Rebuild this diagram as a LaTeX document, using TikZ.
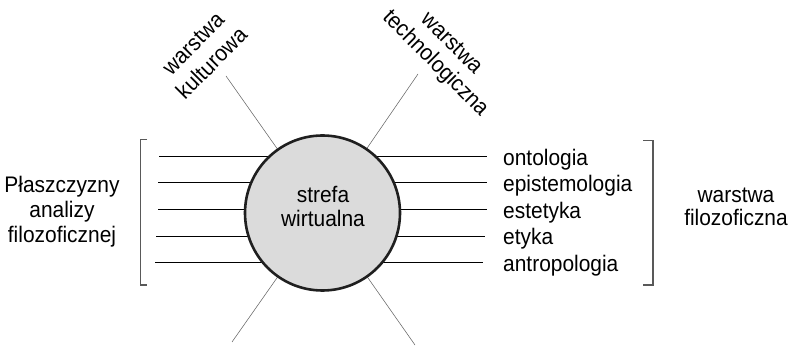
\documentclass[tikz,border=0pt]{standalone}
\usepackage{fontspec}
\setmainfont{Liberation Sans}[FakeStretch=0.93]
\begin{document}
\begin{tikzpicture}[x=1pt,y=-1pt,
  lbl/.style={font=\fontsize{22.5}{25}\selectfont, inner sep=0pt, anchor=base},
  item/.style={lbl, anchor=base west},
  tilted/.style={font=\fontsize{22.5}{25}\selectfont, inner sep=0pt, anchor=center,
                 text height=15pt, text depth=4pt},
  plane/.style={line width=1.2pt, black},
  ray/.style={line width=0.55pt, black!60},
  bracket/.style={line width=1.2pt, black!65},
  core/.style={circle, draw=black!88, line width=2.6pt, fill=black!14,
               minimum size=155pt, inner sep=0pt}]
\useasboundingbox (0,0) rectangle (790,347);

% horizontal planes of analysis
\foreach \i/\y/\xl/\xr in {1/156.5/159/487, 2/182.5/158/487, 3/209.5/158/487, 4/236.5/156/485, 5/262.5/155/483}{
  \coordinate (L\i) at (\xl,\y);
  \coordinate (R\i) at (\xr,\y);
  \draw[plane] (L\i) -- (R\i);
}

% radial layers
\coordinate (tl) at (226,76);
\coordinate (tr) at (418,74);
\coordinate (bl) at (232,342);
\coordinate (br) at (415,345);
\coordinate (cc) at (322.5,213);
\draw[ray] (cc) -- (tl);
\draw[ray] (cc) -- (tr);
\draw[ray] (cc) -- (bl);
\draw[ray] (cc) -- (br);

% central sphere
\node[core] (c) at (cc) {};
\node[lbl] (c1) at (323,203) {strefa};
\node[lbl] (c2) at (323,227) {wirtualna};

% brackets
\draw[bracket] (147,139.5) -- (140.5,139.5) -- (140.5,285) -- (147,285);
\draw[bracket] (643,140.5) -- (653,140.5) -- (653,285) -- (643,285);

% philosophical disciplines
\node[item] (n1) at (503,165.5) {ontologia};
\node[item] (n2) at (503,192) {epistemologia};
\node[item] (n3) at (503,218.5) {estetyka};
\node[item] (n4) at (503,245) {etyka};
\node[item] (n5) at (503,271.5) {antropologia};

% side labels
\node[lbl] (p1) at (62,193) {Płaszczyzny};
\node[lbl] (p2) at (62,218) {analizy};
\node[lbl] (p3) at (62,243) {filozoficznej};
\node[lbl] (f1) at (736,202.5) {warstwa};
\node[lbl] (f2) at (736,225.5) {filozoficzna};

% rotated layer labels
\node[tilted, rotate=45] (k1) at (194.5,45) {warstwa};
\node[tilted, rotate=45] (k2) at (213,64.5) {kulturowa};
\node[tilted, rotate=-45] (t1) at (451,44) {warstwa};
\node[tilted, rotate=-45] (t2) at (435,64) {technologiczna};
\end{tikzpicture}
\end{document}
